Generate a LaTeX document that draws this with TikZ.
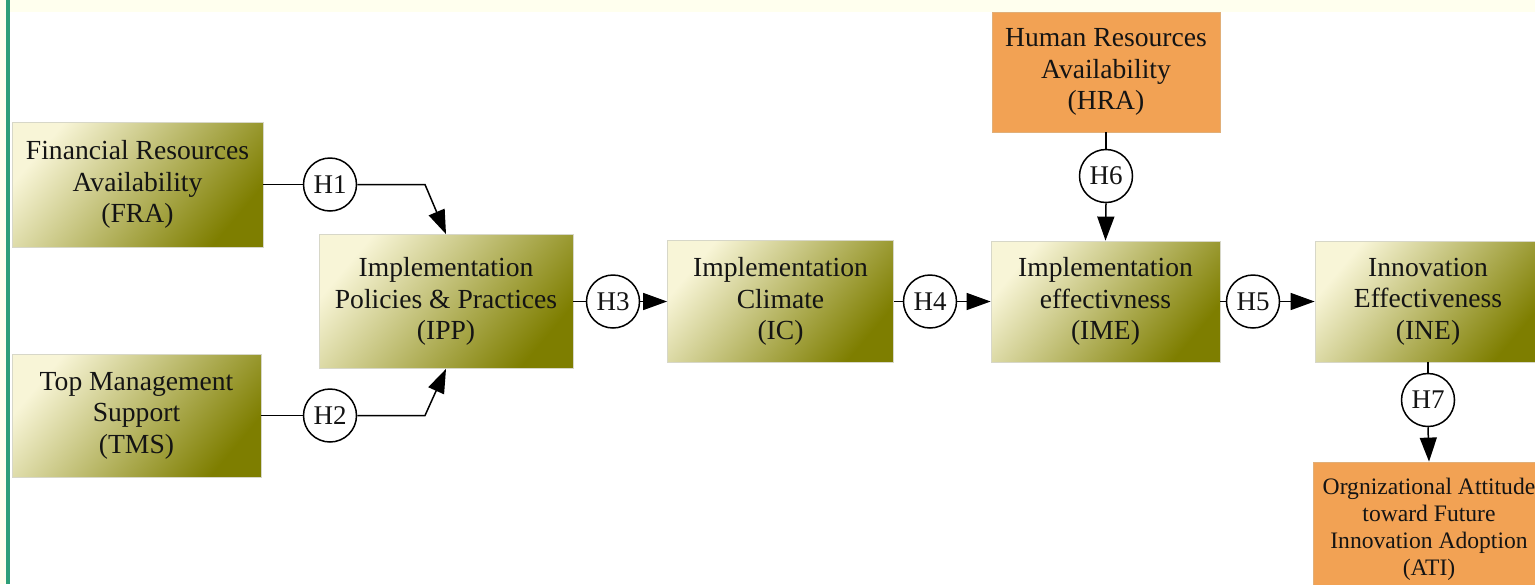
\documentclass[tikz,border=0pt]{standalone}
\usepackage{fontspec}
\setmainfont{Liberation Serif}
\usetikzlibrary{arrows.meta}
\definecolor{cream}{RGB}{255,255,238}
\definecolor{bargreen}{RGB}{46,158,120}
\definecolor{olivelt}{RGB}{248,245,215}
\definecolor{olivemid}{RGB}{200,194,115}
\definecolor{olivedk}{RGB}{126,126,0}
\definecolor{orangebox}{RGB}{242,162,84}
\definecolor{txt}{RGB}{20,20,20}
\tikzset{
  gbox/.style={rectangle, draw={rgb,255:red,215;green,215;blue,200}, line width=0.4pt,
    shade, shading=axis, top color=olivelt, middle color=olivemid, bottom color=olivedk, shading angle=50,
    align=center, text=txt, inner sep=0pt,
    font=\fontsize{13.8}{15.75}\selectfont},
  obox/.style={rectangle, fill=orangebox, draw={rgb,255:red,225;green,175;blue,120}, line width=0.4pt,
    align=center, text=txt, inner sep=0pt,
    font=\fontsize{13.8}{15.75}\selectfont},
  hyp/.style={circle, draw=black, fill=white, line width=0.75pt, minimum size=26.5pt, inner sep=0pt,
    text=txt, font=\fontsize{13.5}{15}\selectfont},
  link/.style={draw=black, line width=0.75pt},
  arr/.style={link, -{Triangle[length=12pt,width=8.5pt]}}
}
\begin{document}
\begin{tikzpicture}[x=0.5pt,y=-0.5pt]
\useasboundingbox (0,0) rectangle (1535,584);
\clip (0,0) rectangle (1535,584);
\fill[white] (0,0) rectangle (1535,584);
\fill[cream] (0,0) rectangle (1535,12);
\fill[cream] (0,0) rectangle (6,584);
\fill[bargreen] (6,0) rectangle (10,584);

% boxes
\node[gbox, minimum width=125.5pt, minimum height=62.5pt] (FRA) at (137.5,184.5) {Financial Resources\\Availability\\(FRA)};
\node[gbox, minimum width=124.5pt, minimum height=61.5pt] (TMS) at (136.5,415.5) {Top Management\\Support\\(TMS)};
\node[gbox, minimum width=127pt, minimum height=67pt] (IPP) at (446,301.5) {Implementation\\Policies \& Practices\\(IPP)};
\node[gbox, minimum width=113pt, minimum height=61pt] (IC) at (780.5,301.5) {Implementation\\Climate\\(IC)};
\node[gbox, minimum width=114.5pt, minimum height=60.5pt] (IME) at (1105.5,301.5) {Implementation\\effectivness\\(IME)};
\node[gbox, minimum width=113pt, minimum height=60.5pt] (INE) at (1428,301.5) {Innovation\\Effectiveness\\(INE)};
\node[obox, minimum width=114pt, minimum height=60pt] (HRA) at (1106,72) {Human Resources\\Availability\\(HRA)};
\node[obox, minimum width=116pt, minimum height=67pt, font=\fontsize{11.8}{13.5}\selectfont] (ATI) at (1429,529) {Orgnizational Attitude\\toward Future\\Innovation Adoption\\(ATI)};

% hypotheses
\node[hyp] (H1) at (330,184.5) {H1};
\node[hyp] (H2) at (330,415.5) {H2};
\node[hyp] (H3) at (613,301.5) {H3};
\node[hyp] (H4) at (930,301.5) {H4};
\node[hyp] (H5) at (1253,301.5) {H5};
\node[hyp] (H6) at (1106,176) {H6};
\node[hyp] (H7) at (1428,400) {H7};

\coordinate (k1) at (425,184.5);
\coordinate (k2) at (425,415.5);

% connectors
\draw[link] (FRA.east) -- (H1.west);
\draw[arr] (H1.east) -- (k1) -- (IPP.north);
\draw[link] (TMS.east) -- (H2.west);
\draw[arr] (H2.east) -- (k2) -- (IPP.south);
\draw[link] (IPP.east) -- (H3.west);
\draw[arr] (H3.east) -- (IC.west);
\draw[link] (IC.east) -- (H4.west);
\draw[arr] (H4.east) -- (IME.west);
\draw[link] (IME.east) -- (H5.west);
\draw[arr] (H5.east) -- (INE.west);
\draw[link] (HRA.south) -- (H6.north);
\draw[arr] (H6.south) -- (IME.north);
\draw[link] (INE.south) -- (H7.north);
\draw[arr] (H7.south) -- (ATI.north);
\end{tikzpicture}
\end{document}
